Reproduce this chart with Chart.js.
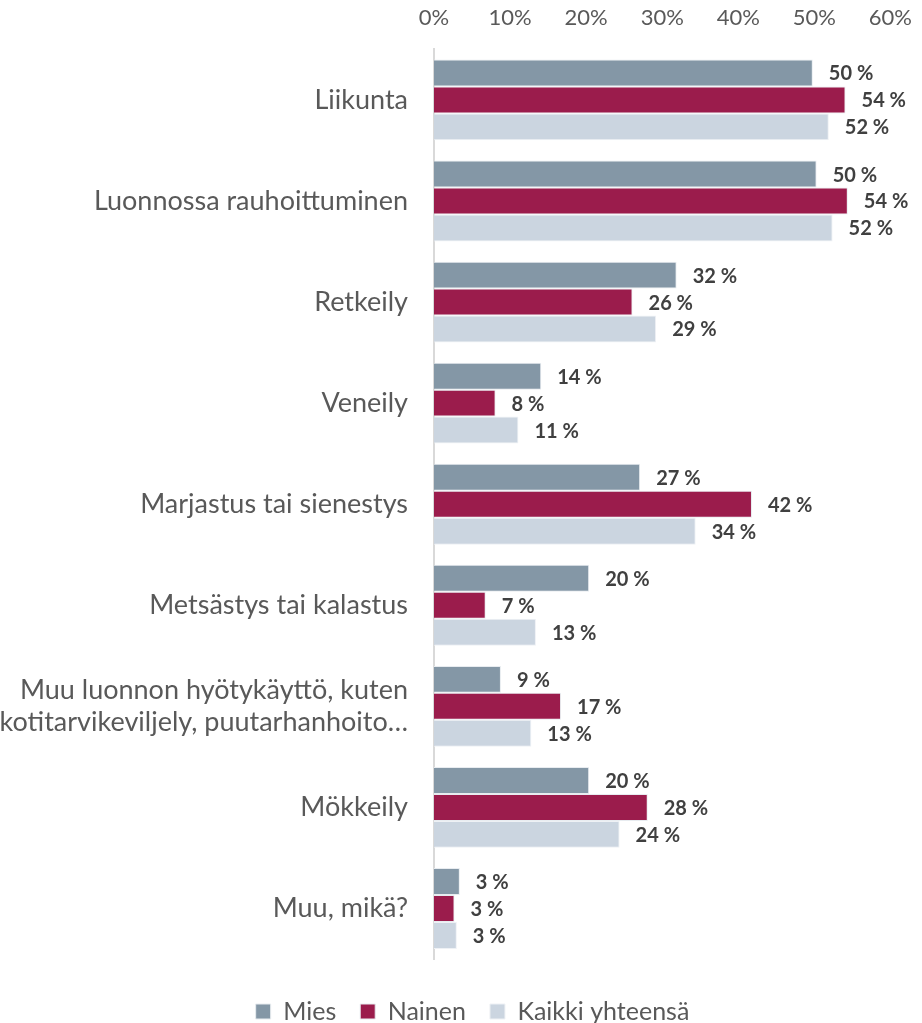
<!DOCTYPE html>
<html>
<head>
<meta charset="utf-8">
<script src="https://cdn.jsdelivr.net/npm/chart.js@4"></script>
<style>
  html, body { margin: 0; padding: 0; background: #fff; }
  #wrap { width: 922px; height: 1023px; }
</style>
</head>
<body>
<div id="wrap"><canvas id="chart1"></canvas></div>
<script>
var categories = [
  "Liikunta",
  "Luonnossa rauhoittuminen",
  "Retkeily",
  "Veneily",
  "Marjastus tai sienestys",
  "Metsästys tai kalastus",
  ["Muu luonnon hyötykäyttö, kuten", "kotitarvikeviljely, puutarhanhoito…"],
  "Mökkeily",
  "Muu, mikä?"
];
var miesValues = [49.8, 50.3, 31.9, 14.1, 27.1, 20.4, 8.8, 20.4, 3.4];
var nainenValues = [54.1, 54.4, 26.1, 8.1, 41.8, 6.8, 16.7, 28.1, 2.7];
var kaikkiValues = [51.9, 52.4, 29.2, 11.1, 34.4, 13.4, 12.8, 24.4, 3.0];
var xTicks = [0, 10, 20, 30, 40, 50, 60];

var fontFamily = "Lato, 'Open Sans', sans-serif";

// draws the "50 %" style labels at the end of each bar
var valueLabels = {
  id: "valueLabels",
  afterDatasetsDraw: function (chart) {
    var ctx = chart.ctx;
    ctx.save();
    ctx.font = "bold 20px " + fontFamily;
    ctx.fillStyle = "#404040";
    ctx.textAlign = "left";
    ctx.textBaseline = "middle";
    chart.data.datasets.forEach(function (ds, i) {
      var meta = chart.getDatasetMeta(i);
      meta.data.forEach(function (bar, j) {
        ctx.fillText(Math.round(ds.data[j]) + " %", bar.x + 16, bar.y + 1);
      });
    });
    ctx.restore();
  }
};

// legend in the original sits a bit right of centre
var legendShift = {
  id: "legendShift",
  afterLayout: function (chart) {
    chart.legend.left += 26;
    chart.legend.right += 26;
  }
};

var obj1 = document.getElementById("chart1");
var chart1 = new Chart(obj1, {
  type: "bar",
  data: {
    labels: categories,
    datasets: [
      {
        label: "Mies",
        data: miesValues,
        backgroundColor: "#8497A6",
        borderColor: "#E8ECF0",
        borderWidth: 1
      },
      {
        label: "Nainen",
        data: nainenValues,
        backgroundColor: "#9B1C4C",
        borderColor: "#E8ECF0",
        borderWidth: 1
      },
      {
        label: "Kaikki yhteensä",
        data: kaikkiValues,
        backgroundColor: "#CBD5E0",
        borderColor: "#EEF1F5",
        borderWidth: 1
      }
    ]
  },
  options: {
    indexAxis: "y",
    responsive: true,
    maintainAspectRatio: false,
    animation: false,
    categoryPercentage: 0.8,
    barPercentage: 1.0,
    layout: { padding: { left: 0, right: 29, top: -5, bottom: -11 } },
    scales: {
      x: {
        position: "top",
        min: 0,
        max: 60,
        afterBuildTicks: function (axis) {
          axis.ticks = xTicks.map(function (v) { return { value: v }; });
        },
        ticks: {
          callback: function (v) { return v + "%"; },
          color: "#595959",
          font: { family: fontFamily, size: 22 },
          padding: 10
        },
        grid: { display: false },
        border: { display: false }
      },
      y: {
        afterFit: function (scale) { scale.width = 434; },
        ticks: {
          color: "#595959",
          font: { family: fontFamily, size: 27 },
          padding: 18
        },
        grid: { display: false },
        border: { display: true, color: "#D9D9D9", width: 2 }
      }
    },
    plugins: {
      legend: {
        position: "bottom",
        title: { display: true, text: " ", font: { size: 10 }, padding: 2 },
        labels: {
          boxWidth: 15,
          boxHeight: 15,
          color: "#595959",
          font: { family: fontFamily, size: 25 },
          padding: 24
        }
      },
      tooltip: { enabled: false }
    }
  },
  plugins: [valueLabels, legendShift]
});
</script>
</body>
</html>
